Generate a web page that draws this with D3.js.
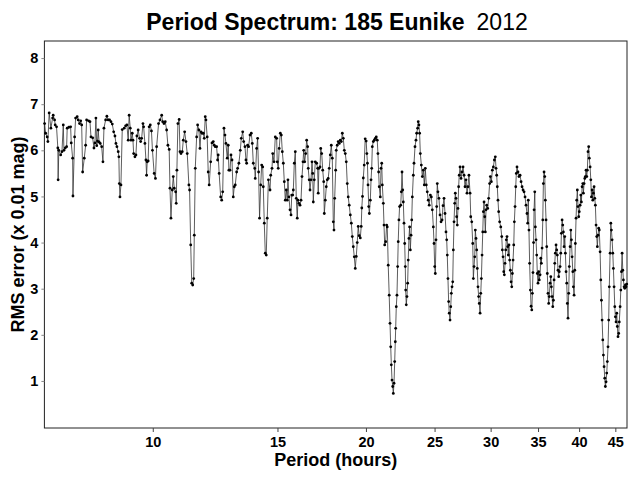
<!DOCTYPE html>
<html>
<head>
<meta charset="utf-8">
<script src="https://cdn.jsdelivr.net/npm/d3@7"></script>
<style>
  html, body { margin: 0; padding: 0; background: #fff; }
  svg { display: block; }
  text { font-family: "Liberation Sans", Arial, sans-serif; }
</style>
</head>
<body>
<svg id="chart" width="632" height="478"></svg>
<script>
// ---- data (period in hours, RMS error in 0.01 mag) ----
const titleMain = "Period Spectrum: 185 Eunike";
const titleYear = "2012";
const xLabel = "Period (hours)";
const yLabel = "RMS error (x 0.01 mag)";
const xTicks = [10, 15, 20, 25, 30, 35, 40, 45];
const yTicks = [1, 2, 3, 4, 5, 6, 7, 8];

const periods = [
7.035,7.058,7.094,7.110,7.140,7.180,7.220,7.234,7.267,7.281,
7.313,7.344,7.351,7.367,7.412,7.443,7.475,7.491,7.523,7.557,
7.571,7.612,7.656,7.671,7.706,7.714,7.756,7.781,7.821,7.846,
7.881,7.910,7.936,7.961,8.003,8.039,8.064,8.116,8.153,8.180,
8.225,8.259,8.286,8.312,8.334,8.355,8.374,8.398,8.430,8.469,
8.504,
8.532,8.579,8.614,8.650,8.689,8.729,8.766,8.806,8.843,8.871,
8.900,8.937,8.956,8.970,8.988,9.017,9.055,9.114,9.155,9.193,
9.232,9.261,9.294,9.315,9.355,9.376,9.397,9.436,9.467,9.497,
9.536,9.579,9.614,9.645,9.686,9.707,9.748,9.780,9.801,9.820,
9.851,9.882,9.919,9.957,9.990,10.045,10.087,10.126,10.190,10.237,
10.294,10.327,10.371,10.414,10.461,10.504,10.548,
10.575,10.609,10.654,10.689,10.723,10.771,10.792,10.816,10.851,10.896,
10.925,10.961,11.007,11.043,11.092,11.139,11.186,11.246,11.271,11.313,
11.350,11.386,11.423,11.445,11.482,11.533,11.570,11.618,11.659,11.697,
11.735,11.784,11.822,11.860,11.887,11.936,11.975,12.013,12.071,12.123,
12.174,12.213,12.252,12.307,12.346,12.370,12.409,12.471,12.512,12.553,
12.605,12.646,12.686,12.739,12.780,12.808,12.854,12.896,12.938,12.992,
13.034,13.076,13.135,13.177,13.231,13.292,13.335,13.396,13.439,13.496,
13.539,13.569,13.612,13.656,13.718,13.776,13.821,13.866,13.928,13.955,
14.018,14.062,14.107,14.152,14.204,14.250,14.297,14.324,14.371,14.417,
14.463,14.509,14.565,14.641,14.674,14.736,14.770,14.832,14.894,14.961,
14.989,15.037,15.085,15.140,15.189,15.238,15.288,15.337,15.386,15.436,
15.485,15.519,15.569,15.625,15.676,15.712,15.763,15.793,15.844,15.895,
15.946,15.997,16.033,16.083,16.141,16.194,16.246,16.299,16.336,16.388,
16.441,16.494,16.546,16.578,16.630,16.674,16.728,16.783,16.821,16.853,
16.908,16.962,17.038,17.093,17.125,17.163,17.226,17.265,17.321,17.378,
17.434,17.467,17.524,17.580,17.636,17.692,17.749,17.811,17.869,17.927,
17.985,18.026,18.067,18.125,18.159,18.217,18.275,18.342,18.401,18.461,
18.521,18.581,18.641,18.701,18.761,18.821,18.880,18.940,19.009,19.071,
19.132,19.194,19.256,19.318,19.380,19.442,19.504,19.566,19.637,19.695,
19.733,19.778,19.829,19.887,19.951,20.015,20.059,20.098,20.136,20.181,
20.223,20.287,20.334,20.379,20.419,20.485,20.551,20.617,20.683,20.749,
20.796,20.842,20.883,20.957,21.005,21.053,21.094,21.162,21.210,21.258,
21.326,21.394,21.435,21.503,21.571,21.629,21.678,21.721,21.770,21.819,
21.862,21.911,21.960,22.003,22.031,22.073,22.123,22.172,22.214,22.264,
22.313,22.395,22.439,22.490,22.541,22.584,22.635,22.686,22.730,22.759,
22.803,22.854,22.905,22.949,22.999,23.051,23.106,23.158,23.211,23.256,
23.331,23.384,23.459,23.534,23.587,23.662,23.707,23.760,23.813,23.869,
23.947,24.025,24.103,24.180,24.258,24.336,24.414,24.490,24.568,24.659,
24.739,24.819,24.900,24.956,25.012,25.060,25.117,25.173,25.221,25.277,
25.357,25.449,25.532,25.615,25.698,25.781,25.864,25.947,26.005,26.055,
26.113,26.171,26.221,26.290,26.350,26.401,26.461,26.521,26.573,26.633,
26.693,26.744,26.804,26.864,26.916,26.976,27.036,27.087,27.160,27.249,
27.337,27.426,27.514,27.603,27.691,27.780,27.868,27.957,28.058,28.122,
28.213,28.305,28.360,28.424,28.488,28.543,28.607,28.671,28.726,28.790,
28.854,28.910,28.986,29.052,29.109,29.175,29.241,29.298,29.364,29.430,
29.487,29.553,29.619,29.714,29.808,29.902,29.973,30.071,30.168,30.266,
30.364,30.461,30.530,30.598,30.657,30.725,30.793,30.891,31.005,31.105,
31.166,31.236,31.307,31.368,31.438,31.509,31.569,31.640,31.710,31.771,
31.842,31.913,31.988,32.061,32.134,32.197,32.270,32.342,32.405,32.478,
32.551,32.613,32.686,32.790,32.895,33.013,33.121,33.228,33.336,33.444,
33.551,33.659,33.766,33.841,33.906,33.981,34.056,34.139,34.217,34.295,
34.361,34.428,34.495,34.551,34.629,34.695,34.773,34.851,34.918,34.995,
35.073,35.140,35.233,35.313,35.382,35.463,35.543,35.612,35.692,35.773,
35.842,35.922,36.003,36.071,36.152,36.232,36.302,36.398,36.481,36.552,
36.635,36.718,36.790,36.873,36.956,37.027,37.110,37.193,37.264,37.347,
37.430,37.501,37.602,37.688,37.761,37.847,37.933,38.006,38.092,38.178,
38.252,38.337,38.423,38.497,38.583,38.668,38.742,38.845,38.934,39.010,
39.098,39.187,39.263,39.351,39.440,39.516,39.605,39.693,39.769,39.858,
39.947,40.022,40.129,40.221,40.299,40.391,40.482,40.561,40.652,40.744,
40.822,40.914,41.006,41.084,41.176,41.267,41.346,41.456,41.551,41.632,
41.726,41.821,41.902,41.997,42.091,42.172,42.267,42.361,42.442,42.537,
42.632,42.713,42.826,42.924,43.007,43.105,43.203,43.287,43.384,43.482,
43.566,43.664,43.761,43.845,43.943,44.040,44.124,44.242,44.343,44.430,
44.531,44.631,44.718,44.819,44.920,45.006,45.107,45.208,45.294,45.395,
45.496,45.582,45.705,45.809,45.899,46.003,46.107,46.197,46.302,46.406,
46.495,46.600,46.704
];

const rms = [
6.58,6.37,6.29,6.19,6.81,6.48,6.70,6.76,6.66,6.55,
6.51,6.05,5.36,6.00,5.90,5.97,6.55,6.00,6.05,6.08,
6.48,6.50,6.51,6.16,5.83,5.01,6.29,6.70,6.73,6.66,
6.58,6.64,6.55,5.53,5.83,6.11,6.66,6.64,6.62,6.29,
6.27,6.05,6.16,6.70,6.10,6.20,6.44,6.18,6.15,6.08,
5.75,
6.48,6.66,6.74,6.66,6.66,6.62,6.57,6.40,6.31,6.15,
6.08,5.97,5.86,5.28,4.99,5.25,6.45,6.48,6.53,6.55,
6.22,6.76,6.48,6.22,6.37,6.22,5.93,5.86,5.90,6.31,
6.44,6.26,6.19,6.26,6.58,6.51,6.15,5.79,5.46,5.75,
5.77,6.51,6.55,6.42,6.00,5.50,5.39,6.08,6.58,6.66,
6.76,6.62,6.58,6.62,6.44,6.11,6.02,
5.18,4.53,5.14,5.43,5.18,5.10,4.85,5.57,6.58,6.67,
5.97,5.93,5.97,6.22,6.40,6.19,5.93,5.25,5.14,3.95,
3.12,3.08,3.22,4.16,5.61,6.29,6.55,6.44,6.04,6.40,
6.37,6.37,6.26,6.73,6.66,6.29,5.53,5.25,5.75,6.16,
6.19,6.11,6.08,6.08,5.79,5.90,5.50,4.99,4.92,5.10,
6.48,6.33,6.15,5.83,6.11,5.57,5.57,5.90,5.79,4.99,
5.21,5.25,5.53,5.61,5.72,6.00,6.26,6.40,6.19,6.08,
5.79,5.72,6.11,6.08,6.33,6.37,6.15,5.72,5.61,5.39,
6.04,6.26,5.53,4.53,5.25,5.68,5.64,5.21,4.42,3.77,
3.73,4.53,5.36,5.14,5.46,5.61,5.93,5.75,6.29,6.26,
5.75,5.61,6.04,6.37,6.33,5.97,5.72,5.32,4.92,5.14,
4.92,5.36,4.99,4.71,4.60,5.03,5.03,5.14,5.72,5.97,
4.96,4.53,4.92,4.85,4.81,4.92,5.43,5.75,6.00,5.75,
5.93,6.22,6.08,5.61,5.36,5.14,5.36,5.75,5.50,4.88,
5.36,5.75,5.72,5.61,5.07,5.61,5.64,6.04,5.93,5.57,
5.32,4.63,4.92,5.21,5.36,5.39,5.61,5.90,6.11,5.83,
4.45,4.27,4.96,5.57,6.00,6.11,6.19,6.15,6.22,6.19,
6.37,6.26,6.00,5.93,5.75,5.28,4.99,4.81,4.60,4.42,
4.13,3.91,3.69,3.44,3.70,4.00,4.35,4.15,4.10,4.35,
4.75,5.00,5.40,5.68,6.25,6.20,5.93,5.72,5.25,4.78,
4.63,4.92,5.36,5.61,6.08,6.19,6.22,6.26,6.29,6.22,
5.93,5.53,5.21,4.99,5.61,5.72,5.25,4.85,4.38,3.95,
4.02,4.38,4.34,3.51,2.86,2.25,1.74,1.35,1.02,0.88,
0.73,0.95,1.42,1.85,2.14,2.61,2.86,3.48,4.02,4.49,
4.78,4.81,5.10,5.53,5.14,4.88,4.42,3.98,3.48,2.97,
2.65,2.83,3.12,3.62,4.09,4.34,3.84,4.16,4.49,4.99,
5.46,5.72,6.08,6.22,6.37,6.48,6.62,6.55,6.37,5.93,
5.68,5.43,5.57,5.25,5.61,5.25,5.10,4.92,4.81,5.03,
4.99,4.71,4.34,3.98,3.48,3.33,4.06,4.78,5.28,5.10,
4.96,4.60,4.45,4.49,4.80,4.96,4.63,4.23,4.06,3.73,
3.22,2.72,2.47,2.32,2.61,2.90,3.04,3.15,3.84,4.45,
4.85,5.07,4.96,4.56,4.38,4.74,5.21,5.46,5.64,5.39,
5.53,5.64,5.46,5.21,5.36,5.07,5.21,5.46,5.07,4.56,
4.45,3.98,3.22,3.48,3.69,4.27,4.09,3.84,3.44,3.04,
2.83,2.68,2.47,2.90,3.22,3.73,4.23,4.67,4.88,4.56,
4.23,4.71,4.81,4.74,4.96,5.28,5.43,5.32,5.57,5.64,
5.79,5.86,5.61,5.46,5.21,4.92,4.67,4.45,4.34,4.13,
3.84,3.69,3.37,3.30,3.55,3.84,4.06,4.13,3.91,3.73,
3.95,3.62,3.40,3.15,3.04,3.33,3.62,3.95,4.45,4.78,
5.21,5.50,5.64,5.53,5.43,5.46,5.32,5.21,5.14,5.10,
4.99,4.81,4.63,4.42,4.92,4.27,3.55,2.97,2.62,2.54,
2.90,3.35,4.00,4.71,5.10,4.34,4.06,3.73,3.33,3.12,
3.37,3.19,3.30,3.66,3.55,3.88,4.49,5.28,5.53,5.43,
4.92,4.49,3.91,3.33,2.90,2.68,2.83,3.12,3.26,3.04,
2.83,2.61,2.75,3.19,3.55,3.77,3.95,3.84,3.73,3.40,
3.26,3.37,3.48,3.77,4.20,4.49,4.38,4.23,3.91,4.13,
3.77,3.37,3.12,2.68,2.36,2.90,3.48,3.91,4.27,4.06,
3.69,3.37,3.04,2.86,3.40,3.98,4.53,4.92,5.14,4.78,
4.56,4.67,4.81,5.03,4.88,5.21,5.28,5.07,5.28,5.39,
5.43,5.57,5.43,5.57,5.97,6.08,5.83,5.64,5.36,4.99,
5.14,4.92,5.07,5.21,4.96,4.81,4.38,4.13,3.91,4.16,
4.31,4.27,3.80,3.19,2.75,2.32,1.89,1.56,1.31,1.06,
0.88,0.98,1.17,1.42,1.74,2.32,3.04,3.77,4.42,4.27,
4.06,3.77,3.44,3.04,2.61,2.39,2.28,2.47,2.18,1.96,
2.03,2.28,2.61,2.97,3.37,3.77,3.40,3.19,3.04,3.01,
3.08,3.04,3.10
];

// ---- layout ----
const W = 632, H = 478;
const plot = { left: 44.4, right: 627, top: 41, bottom: 428 };
const FONT = '"Liberation Sans", Arial, sans-serif';

const svg = d3.select("#chart");

const x = d3.scaleLog().domain([7.03, 46.74]).range([plot.left, plot.right]);
const y = d3.scaleLinear().domain([-0.02, 8.37]).range([plot.bottom, plot.top]);

const n = Math.min(periods.length, rms.length);
const data = d3.range(n).map(i => ({ p: periods[i], v: rms[i] }));

// frame
svg.append("rect")
  .attr("x", plot.left).attr("y", plot.top)
  .attr("width", plot.right - plot.left)
  .attr("height", plot.bottom - plot.top)
  .attr("fill", "none").attr("stroke", "#222").attr("stroke-width", 1);

// x axis
const gx = svg.append("g")
  .attr("transform", `translate(0,${plot.bottom})`)
  .call(d3.axisBottom(x).tickValues(xTicks).tickFormat(d3.format("d")).tickSize(4).tickPadding(5));
gx.select(".domain").remove();
gx.selectAll(".tick line").attr("stroke", "#444");
gx.selectAll(".tick text")
  .attr("font-family", FONT).attr("font-size", 14.5).attr("font-weight", "bold").attr("fill", "#000");

// y axis
const gy = svg.append("g")
  .attr("transform", `translate(${plot.left},0)`)
  .call(d3.axisLeft(y).tickValues(yTicks).tickFormat(d3.format("d")).tickSize(3).tickPadding(3));
gy.select(".domain").remove();
gy.selectAll(".tick line").attr("stroke", "#888");
gy.selectAll(".tick text")
  .attr("font-family", FONT).attr("font-size", 14.5).attr("font-weight", "bold").attr("fill", "#000");

// line + points
const line = d3.line().x(d => x(d.p)).y(d => y(d.v));
svg.append("path")
  .datum(data)
  .attr("d", line)
  .attr("fill", "none")
  .attr("stroke", "#333")
  .attr("stroke-width", 0.8);

svg.append("g").selectAll("circle")
  .data(data).enter().append("circle")
  .attr("cx", d => x(d.p)).attr("cy", d => y(d.v))
  .attr("r", 1.4).attr("fill", "#000");

// title
const title = svg.append("text")
  .attr("x", 337).attr("y", 30)
  .attr("text-anchor", "middle")
  .attr("font-family", FONT).attr("font-size", 23).attr("fill", "#000");
title.append("tspan").attr("font-weight", "bold").text(titleMain);
title.append("tspan").attr("dx", 12).attr("font-weight", "normal").text(titleYear);

// axis titles
svg.append("text")
  .attr("x", (plot.left + plot.right) / 2).attr("y", 466)
  .attr("text-anchor", "middle")
  .attr("font-family", FONT).attr("font-size", 18).attr("font-weight", "bold")
  .text(xLabel);

svg.append("text")
  .attr("transform", `translate(24,${(plot.top + plot.bottom) / 2}) rotate(-90)`)
  .attr("text-anchor", "middle")
  .attr("font-family", FONT).attr("font-size", 18).attr("font-weight", "bold")
  .text(yLabel);
</script>
</body>
</html>
